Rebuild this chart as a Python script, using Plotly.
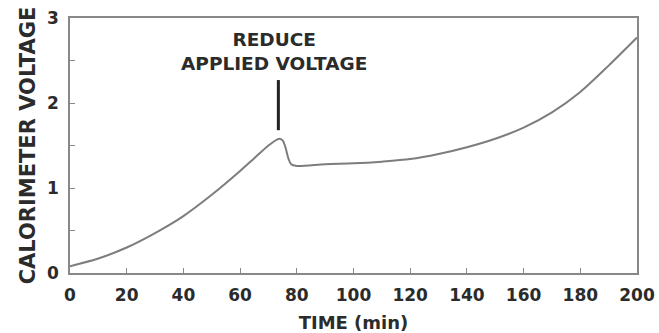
import plotly.graph_objects as go

time_min = [0, 10, 20, 30, 40, 50, 60, 65, 70, 73, 74, 75, 76, 77, 78, 80, 90, 100,
            110, 120, 130, 140, 150, 160, 170, 180, 190, 200]
cal_voltage = [0.08, 0.17, 0.30, 0.47, 0.67, 0.92, 1.20, 1.35, 1.50, 1.57, 1.58, 1.56,
               1.48, 1.35, 1.28, 1.26, 1.28, 1.29, 1.31, 1.34, 1.40, 1.48, 1.58, 1.71,
               1.89, 2.13, 2.44, 2.77]
x_ticks = [0, 20, 40, 60, 80, 100, 120, 140, 160, 180, 200]
y_ticks = [0, 0.5, 1, 1.5, 2, 2.5, 3]
y_ticktext = ["0", "", "1", "", "2", "", "3"]
annot_t = 73.5
annot_v = [1.68, 2.27]

FONT = "DejaVu Sans, Liberation Sans, sans-serif"
TXT = "#2b2b2b"

fig = go.Figure()
fig.add_trace(go.Scatter(x=time_min, y=cal_voltage, mode="lines",
                         line=dict(color="#7d7d7d", width=2, shape="spline", smoothing=0.8),
                         hoverinfo="skip", showlegend=False))

fig.add_shape(type="line", x0=annot_t, x1=annot_t, y0=annot_v[0], y1=annot_v[1],
              xref="x", yref="y", line=dict(color="#222222", width=3))
fig.add_annotation(x=annot_t - 1.5, y=annot_v[1] + 0.05, xref="x", yref="y",
                   text="<b>REDUCE<br>APPLIED VOLTAGE</b>", showarrow=False,
                   yanchor="bottom", align="center",
                   font=dict(family=FONT, size=18.5, color=TXT))

fig.update_xaxes(range=[0, 200], tickvals=x_ticks, ticks="inside", ticklen=5,
                 tickcolor="#888888", showline=True, linecolor="#888888", linewidth=1.5,
                 mirror=True, showgrid=False, zeroline=False, automargin=False,
                 ticklabelstandoff=6,
                 tickfont=dict(family=FONT, size=17, color=TXT, weight="bold"),
                 title=dict(text="<b>TIME (min)</b>", standoff=12,
                            font=dict(family=FONT, size=18, color=TXT)))
fig.update_yaxes(range=[0, 3], tickvals=y_ticks, ticktext=y_ticktext, ticks="inside",
                 ticklen=5, tickcolor="#888888", showline=True, linecolor="#888888",
                 linewidth=1.5, mirror=True, showgrid=False, zeroline=False, automargin=False,
                 ticklabelstandoff=6,
                 tickfont=dict(family=FONT, size=17, color=TXT, weight="bold"),
                 title=dict(text="<b>CALORIMETER VOLTAGE</b>", standoff=6,
                            font=dict(family=FONT, size=21, color=TXT)))

fig.update_layout(width=659, height=333, margin=dict(l=70, r=22, t=18, b=60),
                  paper_bgcolor="white", plot_bgcolor="white")

fig.write_html("out.html")
